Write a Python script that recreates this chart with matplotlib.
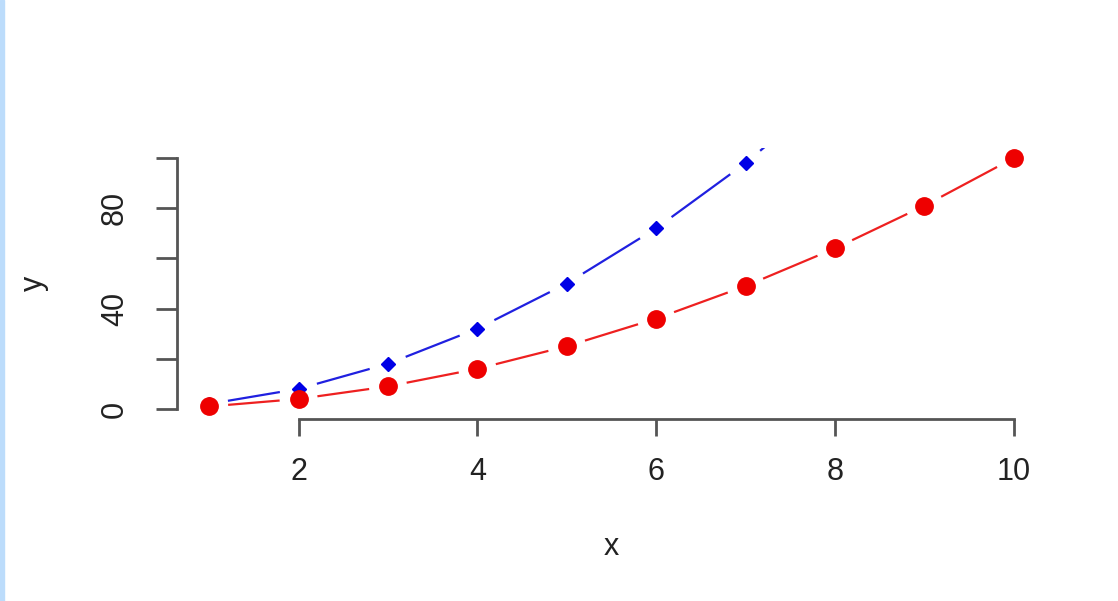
import numpy as np
import matplotlib
matplotlib.use("Agg")
import matplotlib.pyplot as plt
from matplotlib.patches import Rectangle

# data
x = [1, 2, 3, 4, 5, 6, 7, 8, 9, 10]
y_red = [1, 4, 9, 16, 25, 36, 49, 64, 81, 100]
y_blue = [2, 8, 18, 32, 50, 72, 98, 128, 162, 200]
xticks = [2, 4, 6, 8, 10]
yticks = [0, 20, 40, 60, 80, 100]
ylabels = ["0", "", "40", "", "80", ""]

plt.rcParams['font.family'] = ['Liberation Sans', 'DejaVu Sans']

W, H, DPI = 1118, 601, 100
fig = plt.figure(figsize=(W / DPI, H / DPI), dpi=DPI)
fig.patches.append(Rectangle((0, 0), 4.0 / W, 1, transform=fig.transFigure,
                             color="#bcdcfb", zorder=0))

left, right, top, bottom = 177, 1046, 148, 419
ax = fig.add_axes([left / W, 1 - bottom / H, (right - left) / W, (bottom - top) / H])
ax.set_xlim(0.64, 10.36)
ax.set_ylim(-4, 104)


def gapped(ax, xs, ys, color, gap=19):
	# R type="b": segments that stop short of every point
	pts = ax.transData.transform(np.column_stack([xs, ys]))
	inv = ax.transData.inverted()
	for p, q in zip(pts[:-1], pts[1:]):
		d = q - p
		L = np.hypot(*d)
		if L <= 2 * gap:
			continue
		u = d / L
		a = inv.transform(p + u * gap)
		b = inv.transform(q - u * gap)
		ax.plot([a[0], b[0]], [a[1], b[1]], color=color, lw=1.6, solid_capstyle="butt")


gapped(ax, x, y_blue, "#2020e0")
gapped(ax, x, y_red, "#ee2020")
ax.plot(x, y_blue, ls="none", marker="D", ms=7, color="#0000e6", mec="#0000e6")
ax.plot(x, y_red, ls="none", marker="o", ms=12.5, color="#ee0000", mec="#ee0000")

for s in ["top", "right"]:
	ax.spines[s].set_visible(False)
ax.spines["left"].set_bounds(0, 100)
ax.spines["bottom"].set_bounds(2, 10)
for s in ["left", "bottom"]:
	ax.spines[s].set_color("#555555")
	ax.spines[s].set_linewidth(2)

ax.set_xticks(xticks)
ax.set_yticks(yticks)
ax.set_yticklabels(ylabels, rotation=90, va="center")
ax.tick_params(axis="both", width=2, color="#555555",
               labelsize=22, labelcolor="#222222")
ax.tick_params(axis="x", length=12, pad=15)
ax.tick_params(axis="y", length=15, pad=19)

ax.set_xlabel("x", fontsize=22, color="#222222")
ax.set_ylabel("y", fontsize=22, color="#222222")
ax.xaxis.set_label_coords(0.5, -(547 - bottom) / (bottom - top))
ax.xaxis.label.set_va("center")
ax.yaxis.set_label_coords(-(left - 34) / (right - left), 0.5)
ax.yaxis.label.set_va("center")

fig.savefig("out.png", dpi=DPI)
